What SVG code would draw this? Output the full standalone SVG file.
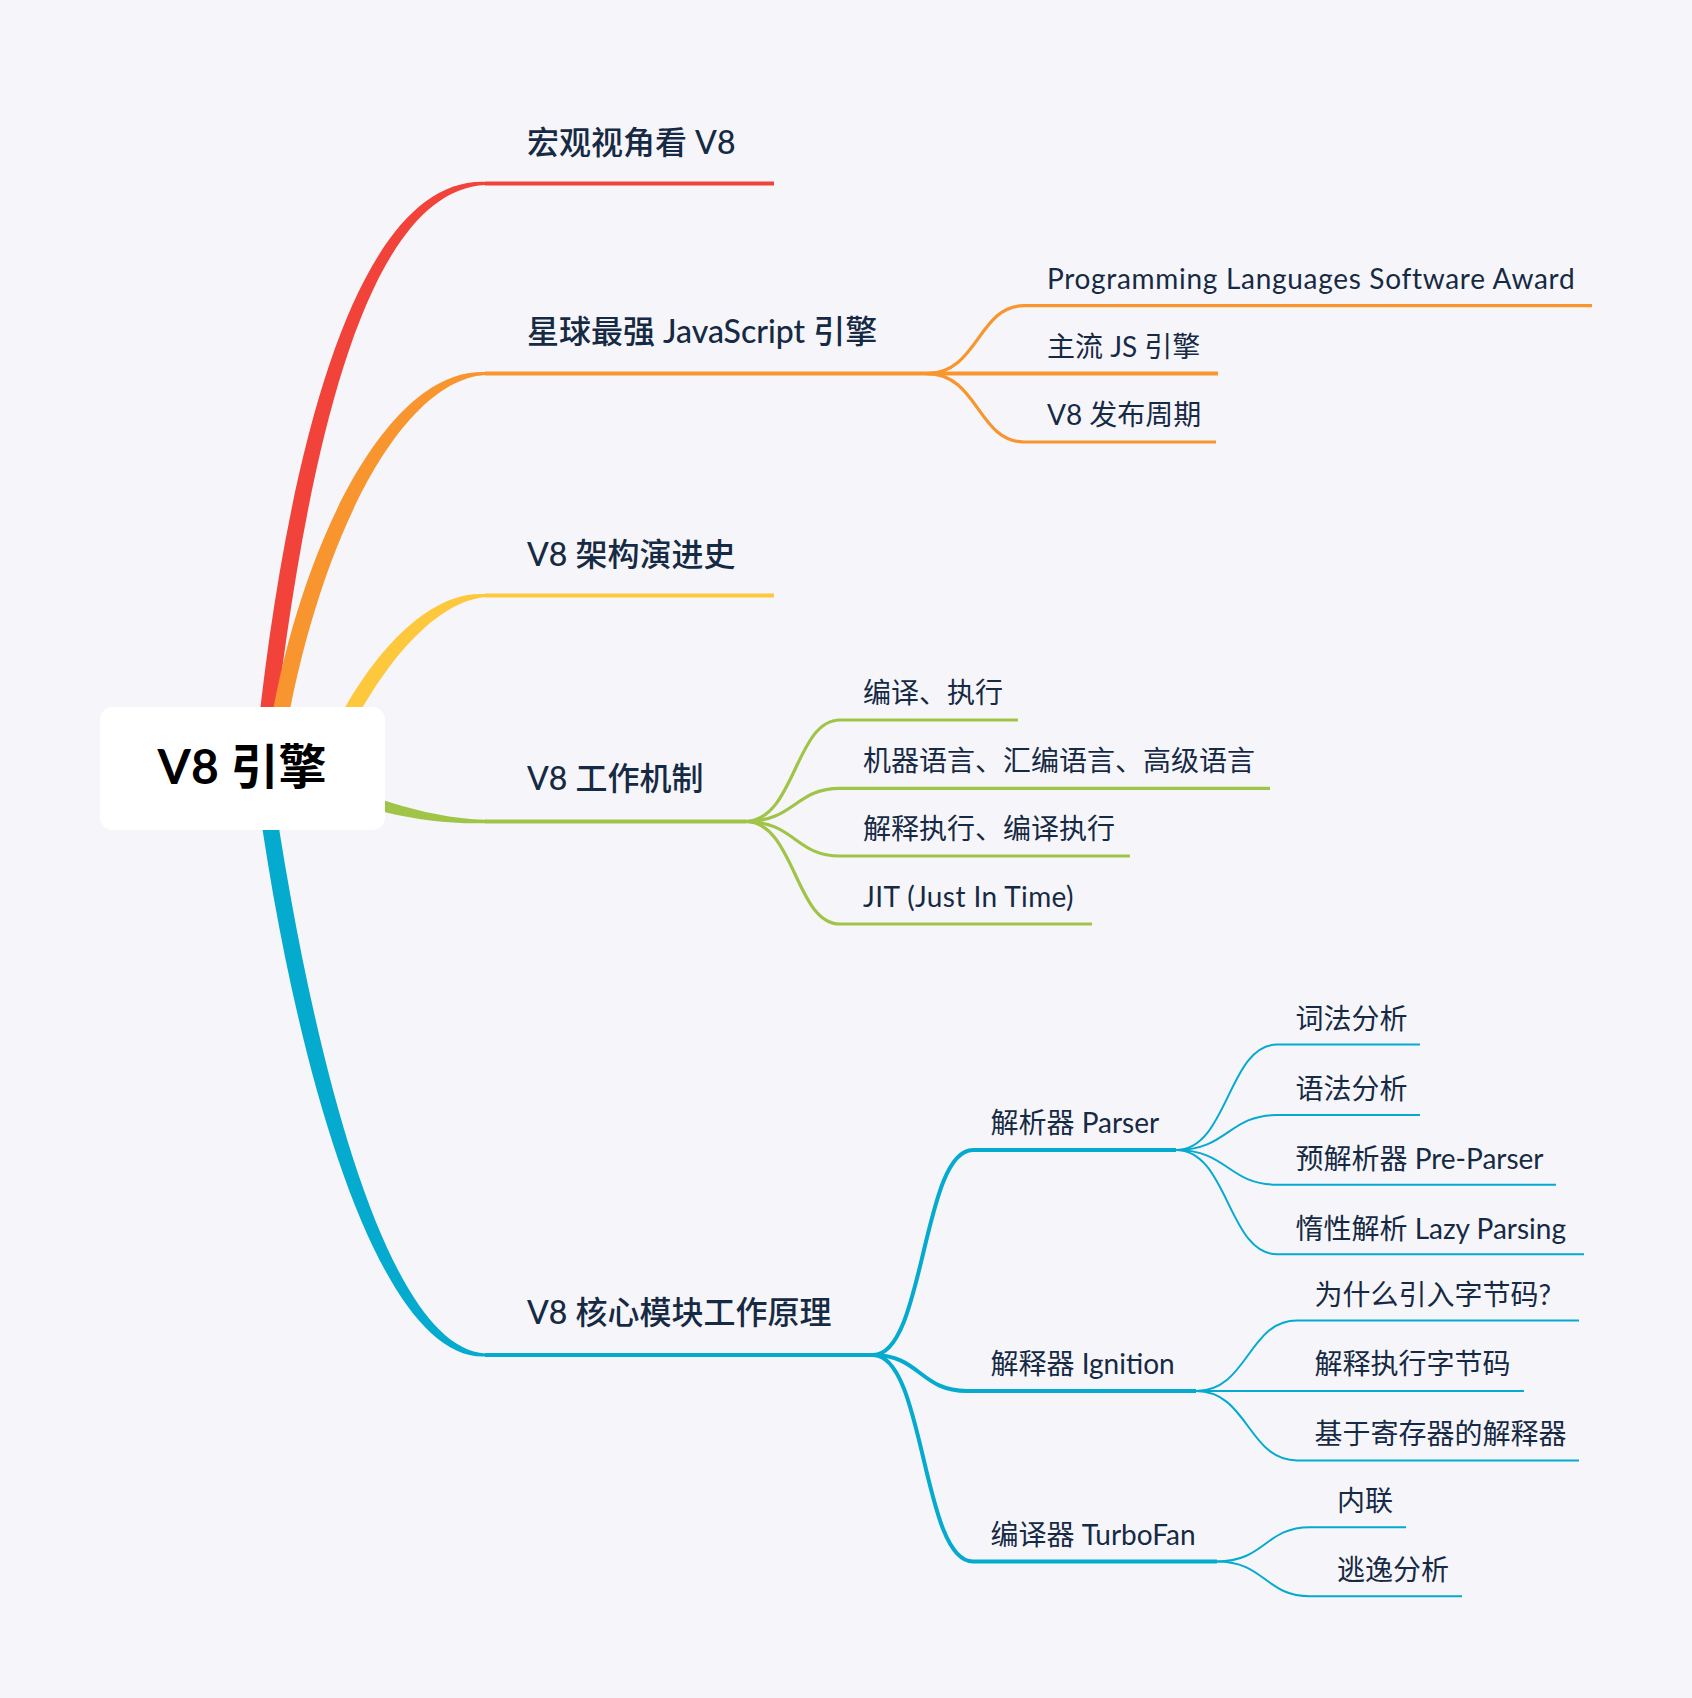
<svg xmlns="http://www.w3.org/2000/svg" width="1692" height="1698" viewBox="0 0 1692 1698">
<style>
text { font-family: Lato, "Noto Sans CJK SC", sans-serif; fill: #172A44; }
.main { font-size: 32px; font-weight: 500; }
.sub { font-size: 28px; font-weight: 400; }
.root { font-size: 48px; font-weight: 700; fill: #000; }
.ln { fill: none; stroke-linecap: butt; }
.red { stroke: #F1433A; }
.orange { stroke: #F8952F; }
.yellow { stroke: #FDC83B; }
.green { stroke: #A0C447; }
.blue { stroke: #05AACF; }
.w4 { stroke-width: 4; }
.w3 { stroke-width: 3.2; }
.w2 { stroke-width: 2; }
</style>
<rect width="1692" height="1698" fill="#F6F6FA"/>
<g id="connectors">
  <!-- tapered main branches -->
  <path fill="#F1433A" d="M254,768 C280,500 345,176.4 485.6,181.9 L485.6,184.9 C355,190.4 300,500 270,768 Z"/>
  <path fill="#F8952F" d="M264,768 C290,560 385,366.6 485.6,372.1 L485.6,375.1 C395,380.6 310,560 280,768 Z"/>
  <path fill="#FDC83B" d="M317,768 C345,690 415,588.6 485.6,594.1 L485.6,597.1 C425,602.6 365,690 333,768 Z"/>
  <path fill="#A0C447" d="M300,770 C360,792 420,818 485.6,819.8 L485.6,823.2 C420,825 360,808 300,786 Z"/>
  <path fill="#05AACF" d="M254,768 C290,1050 375,1362 485.6,1356.5 L485.6,1353.5 C385,1348 310,1050 270,768 Z"/>
  <!-- main topic lines -->
  <path class="ln red w4" d="M485,183.4 H774"/>
  <path class="ln orange w4" d="M485,373.6 H1218"/>
  <path class="ln yellow w4" d="M485,595.6 H774"/>
  <path class="ln green w4" d="M485,821.5 H746"/>
  <path class="ln blue w4" d="M485,1355 H874"/>
  <!-- orange children -->
  <path class="ln orange w3" d="M927,373.6 C978,373.6 978,305.7 1024,305.7 H1592"/>
  <path class="ln orange w3" d="M927,373.6 C978,373.6 978,442 1024,442 H1216"/>
  <!-- green children -->
  <path class="ln green w3" d="M745,821.5 C795,821.5 795,720 840,720 H1018"/>
  <path class="ln green w3" d="M745,821.5 C795,821.5 795,788.3 840,788.3 H1270"/>
  <path class="ln green w3" d="M745,821.5 C795,821.5 795,856 840,856 H1130"/>
  <path class="ln green w3" d="M745,821.5 C795,821.5 795,924 840,924 H1092"/>
  <!-- blue level 2 -->
  <path class="ln blue w4" d="M873,1355 C925,1355 922,1150 973,1150 H1176"/>
  <path class="ln blue w4" d="M873,1355 C920,1355 920,1391 967,1391 H1196"/>
  <path class="ln blue w4" d="M873,1355 C925,1355 922,1561.5 973,1561.5 H1217"/>
  <!-- parser children -->
  <path class="ln blue w2" d="M1176,1150 C1228,1150 1228,1044.5 1277,1044.5 H1420"/>
  <path class="ln blue w2" d="M1176,1150 C1228,1150 1228,1115 1277,1115 H1420"/>
  <path class="ln blue w2" d="M1176,1150 C1228,1150 1228,1184.7 1277,1184.7 H1556"/>
  <path class="ln blue w2" d="M1176,1150 C1228,1150 1228,1254.3 1277,1254.3 H1584"/>
  <!-- ignition children -->
  <path class="ln blue w2" d="M1196,1391 C1248,1391 1248,1320.6 1297,1320.6 H1579"/>
  <path class="ln blue w2" d="M1196,1391 H1524"/>
  <path class="ln blue w2" d="M1196,1391 C1248,1391 1248,1460.4 1297,1460.4 H1579"/>
  <!-- turbofan children -->
  <path class="ln blue w2" d="M1217,1561.5 C1265,1561.5 1265,1527.2 1310,1527.2 H1406"/>
  <path class="ln blue w2" d="M1217,1561.5 C1265,1561.5 1265,1596.3 1310,1596.3 H1462"/>
</g>
<g id="root">
  <rect x="100" y="707" width="285" height="123" rx="13" fill="#FFFFFF"/>
  <text class="root" x="242" y="784" text-anchor="middle">V8 引擎</text>
</g>
<g id="t1"><text class="main" x="527" y="153.5">宏观视角看 V8</text></g>
<g id="t2"><text class="main" x="527" y="342.5">星球最强 JavaScript 引擎</text></g>
<g id="t2a"><text class="sub" x="1047" y="288.5" letter-spacing="0.7">Programming Languages Software Award</text></g>
<g id="t2b"><text class="sub" x="1047" y="356.5">主流 JS 引擎</text></g>
<g id="t2c"><text class="sub" x="1047" y="425">V8 发布周期</text></g>
<g id="t3"><text class="main" x="527" y="566">V8 架构演进史</text></g>
<g id="t4"><text class="main" x="527" y="790">V8 工作机制</text></g>
<g id="t4a"><text class="sub" x="863" y="702.5">编译、执行</text></g>
<g id="t4b"><text class="sub" x="863" y="770.5">机器语言、汇编语言、高级语言</text></g>
<g id="t4c"><text class="sub" x="863" y="838.5">解释执行、编译执行</text></g>
<g id="t4d"><text class="sub" x="863" y="906.5" letter-spacing="0.4">JIT (Just In Time)</text></g>
<g id="t5"><text class="main" x="527" y="1324">V8 核心模块工作原理</text></g>
<g id="t5a"><text class="sub" x="990.5" y="1133">解析器 Parser</text></g>
<g id="t5a1"><text class="sub" x="1295.5" y="1029">词法分析</text></g>
<g id="t5a2"><text class="sub" x="1295.5" y="1099">语法分析</text></g>
<g id="t5a3"><text class="sub" x="1295.5" y="1168.5">预解析器 Pre-Parser</text></g>
<g id="t5a4"><text class="sub" x="1295.5" y="1238.5">惰性解析 Lazy Parsing</text></g>
<g id="t5b"><text class="sub" x="990.5" y="1374">解释器 Ignition</text></g>
<g id="t5b1"><text class="sub" x="1314.5" y="1304.5">为什么引入字节码?</text></g>
<g id="t5b2"><text class="sub" x="1314.5" y="1374">解释执行字节码</text></g>
<g id="t5b3"><text class="sub" x="1314.5" y="1444">基于寄存器的解释器</text></g>
<g id="t5c"><text class="sub" x="990.5" y="1545">编译器 TurboFan</text></g>
<g id="t5c1"><text class="sub" x="1337" y="1510.5">内联</text></g>
<g id="t5c2"><text class="sub" x="1337" y="1580">逃逸分析</text></g>
</svg>
